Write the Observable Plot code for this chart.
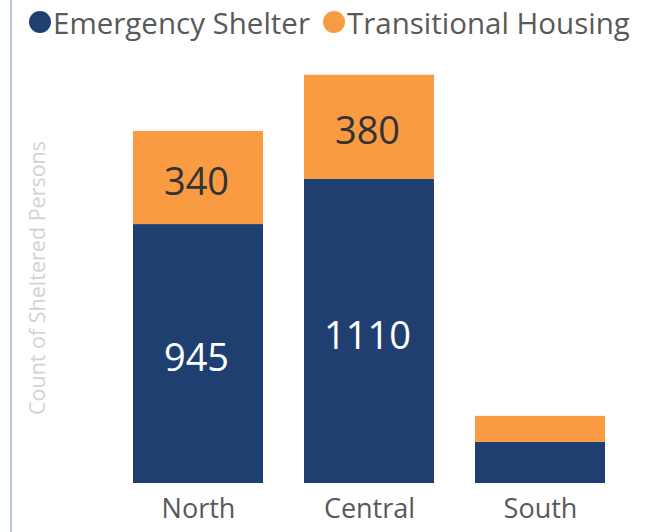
<!DOCTYPE html>
<html>
<head>
<meta charset="utf-8">
<script src="https://cdn.jsdelivr.net/npm/d3@7"></script>
<script src="https://cdn.jsdelivr.net/npm/@observablehq/plot@0.6"></script>
<style>
  html, body { margin: 0; padding: 0; background: #fff; }
  #wrap { position: relative; width: 662px; height: 532px; overflow: hidden; font-family: "Open Sans", sans-serif; }
  #edge { position: absolute; left: 10px; top: 0; width: 2px; height: 532px; background: #b8c7e0; }
  #legend { height: 44px; display: flex; align-items: center; padding-left: 29px; box-sizing: border-box; font-size: 29.5px; color: #595959; }
  .item { display: flex; align-items: center; margin-right: 13px; }
  .dot { width: 22px; height: 22px; border-radius: 50%; margin-right: 2px; }
  svg { display: block; }
</style>
</head>
<body>
<div id="wrap">
  <div id="edge"></div>
  <div id="legend"></div>
  <div id="chart"></div>
</div>
<script>
const regions = ["North", "Central", "South"];
const seriesNames = ["Emergency Shelter", "Transitional Housing"];
const seriesColors = ["#1e3f6f", "#f89b43"];
const emergencyShelter = [945, 1110, 150];
const transitionalHousing = [340, 380, 95];
const yAxisLabel = "Count of Sheltered Persons";

const data = regions.flatMap((r, i) => [
  {region: r, series: seriesNames[0], value: emergencyShelter[i]},
  {region: r, series: seriesNames[1], value: transitionalHousing[i]}
]);

const legend = document.getElementById("legend");
seriesNames.forEach((name, i) => {
  const item = document.createElement("div");
  item.className = "item";
  const dot = document.createElement("div");
  dot.className = "dot";
  dot.style.background = seriesColors[i];
  const label = document.createElement("span");
  label.textContent = name;
  item.appendChild(dot);
  item.appendChild(label);
  legend.appendChild(item);
});

const minLabel = 200;

const chart = Plot.plot({
  width: 662,
  height: 488,
  marginLeft: 90,
  marginRight: 15,
  marginTop: 28,
  marginBottom: 49,
  style: {fontFamily: "Open Sans, sans-serif", background: "transparent", overflow: "visible"},
  x: {domain: regions, padding: 0.24, label: null},
  y: {domain: [0, 1500], axis: null},
  color: {domain: seriesNames, range: seriesColors},
  marks: [
    Plot.barY(data, Plot.stackY({x: "region", y: "value", fill: "series"})),
    Plot.text(data, Plot.stackY({
      x: "region", y: "value",
      text: d => (d.series === seriesNames[0] && d.value > minLabel) ? String(d.value) : "",
      fill: "white", fontSize: 38, dx: -2, dy: 5
    })),
    Plot.text(data, Plot.stackY({
      x: "region", y: "value",
      text: d => (d.series === seriesNames[1] && d.value > minLabel) ? String(d.value) : "",
      fill: "#333333", fontSize: 38, dx: -2, dy: 5
    })),
    Plot.axisX({tickSize: 0, tickPadding: 15, fontSize: 27, fill: "#595959", label: null}),
    Plot.text([yAxisLabel], {
      frameAnchor: "left", text: d => d, rotate: -90, dx: -52,
      textAnchor: "middle", fill: "#d3d3d3", fontSize: 21.5
    })
  ]
});
document.getElementById("chart").appendChild(chart);
</script>
</body>
</html>
